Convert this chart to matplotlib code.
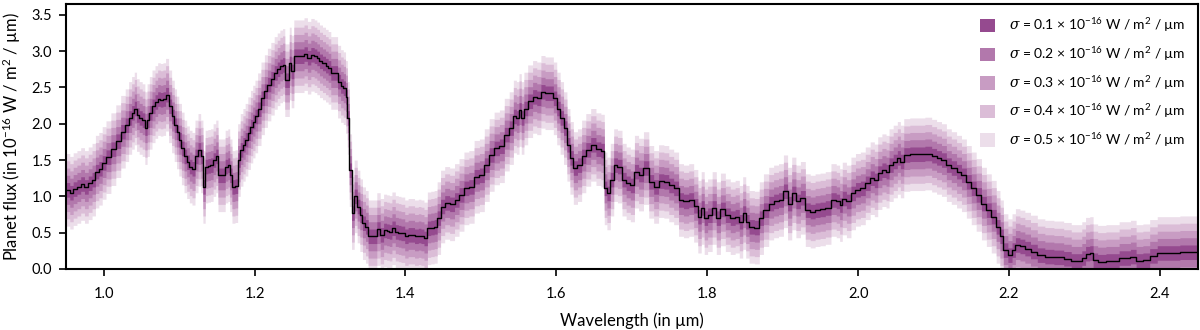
import numpy as np
import matplotlib
matplotlib.use("Agg")
import matplotlib.pyplot as plt
from matplotlib.patches import Patch

plt.rcParams['font.family'] = ['Lato', 'DejaVu Sans']
plt.rcParams['mathtext.fontset'] = 'custom'
plt.rcParams['mathtext.rm'] = 'Lato'
plt.rcParams['mathtext.it'] = 'DejaVu Serif:italic'

wavelength = [
    0.950, 0.953, 0.957, 0.962, 0.967, 0.972, 0.977, 0.982, 0.987, 0.991,
    0.996, 1.000, 1.006, 1.013, 1.019, 1.026, 1.031, 1.035, 1.039, 1.042,
    1.045, 1.049, 1.053, 1.056, 1.059, 1.062, 1.066, 1.070, 1.073, 1.077,
    1.080, 1.084, 1.088, 1.092, 1.095, 1.098, 1.101, 1.105, 1.108, 1.112,
    1.115, 1.119, 1.123, 1.127, 1.130, 1.133, 1.136, 1.140, 1.143, 1.147,
    1.150, 1.153, 1.159, 1.163, 1.166, 1.168, 1.172, 1.176, 1.179, 1.183,
    1.186, 1.189, 1.193, 1.196, 1.199, 1.202, 1.206, 1.211, 1.215, 1.219,
    1.224, 1.228, 1.232, 1.235, 1.239, 1.241, 1.245, 1.247, 1.250, 1.254,
    1.258, 1.263, 1.268, 1.272, 1.277, 1.281, 1.284, 1.288, 1.292, 1.296,
    1.299, 1.303, 1.308, 1.312, 1.316, 1.319, 1.322, 1.324, 1.327, 1.330,
    1.334, 1.338, 1.341, 1.345, 1.349, 1.352, 1.356, 1.360, 1.364, 1.369,
    1.373, 1.377, 1.380, 1.384, 1.389, 1.392, 1.396, 1.402, 1.405, 1.409,
    1.415, 1.419, 1.422, 1.427, 1.431, 1.436, 1.440, 1.444, 1.449, 1.455,
    1.462, 1.468, 1.474, 1.481, 1.487, 1.495, 1.501, 1.508, 1.514, 1.521,
    1.528, 1.534, 1.541, 1.545, 1.549, 1.552, 1.555, 1.559, 1.565, 1.572,
    1.576, 1.583, 1.587, 1.594, 1.598, 1.603, 1.607, 1.612, 1.616, 1.620,
    1.625, 1.631, 1.636, 1.642, 1.649, 1.656, 1.662, 1.665, 1.669, 1.674,
    1.678, 1.684, 1.690, 1.695, 1.701, 1.706, 1.712, 1.719, 1.726, 1.732,
    1.739, 1.746, 1.752, 1.759, 1.765, 1.772, 1.779, 1.785, 1.790, 1.794,
    1.798, 1.803, 1.810, 1.814, 1.821, 1.827, 1.834, 1.840, 1.845, 1.849,
    1.853, 1.858, 1.867, 1.871, 1.878, 1.885, 1.891, 1.898, 1.904, 1.909,
    1.915, 1.920, 1.927, 1.933, 1.940, 1.946, 1.953, 1.960, 1.968, 1.974,
    1.977, 1.981, 1.988, 1.993, 2.000, 2.006, 2.013, 2.019, 2.024, 2.028,
    2.035, 2.039, 2.043, 2.050, 2.054, 2.058, 2.063, 2.074, 2.083, 2.094,
    2.101, 2.107, 2.114, 2.120, 2.127, 2.134, 2.140, 2.147, 2.153, 2.160,
    2.167, 2.173, 2.180, 2.186, 2.190, 2.195, 2.202, 2.206, 2.211, 2.218,
    2.224, 2.233, 2.242, 2.253, 2.266, 2.279, 2.286, 2.294, 2.299, 2.304,
    2.310, 2.313, 2.322, 2.335, 2.357, 2.365, 2.372, 2.383, 2.390, 2.403,
    2.417, 2.436, 2.450,
]

flux = [
    1.09, 1.09, 1.05, 1.10, 1.13, 1.17, 1.13, 1.18, 1.23, 1.34,
    1.38, 1.46, 1.54, 1.65, 1.76, 1.89, 1.98, 2.08, 2.15, 2.21,
    2.12, 2.08, 2.05, 1.94, 2.05, 2.15, 2.24, 2.30, 2.34, 2.33,
    2.34, 2.40, 2.24, 2.10, 1.98, 1.88, 1.78, 1.66, 1.55, 1.47,
    1.41, 1.38, 1.55, 1.64, 1.55, 1.13, 1.41, 1.42, 1.43, 1.50,
    1.55, 1.29, 1.29, 1.41, 1.43, 1.29, 1.13, 1.14, 1.50, 1.64,
    1.71, 1.78, 1.87, 1.96, 2.03, 2.10, 2.20, 2.35, 2.45, 2.54,
    2.62, 2.70, 2.75, 2.79, 2.81, 2.60, 2.60, 2.83, 2.72, 2.93,
    2.93, 2.93, 2.96, 2.91, 2.95, 2.93, 2.90, 2.86, 2.83, 2.80,
    2.77, 2.70, 2.70, 2.58, 2.52, 2.49, 2.37, 2.08, 1.36, 0.77,
    1.00, 0.86, 0.74, 0.63, 0.58, 0.45, 0.45, 0.45, 0.55, 0.47,
    0.53, 0.52, 0.51, 0.56, 0.51, 0.50, 0.49, 0.45, 0.47, 0.47,
    0.45, 0.46, 0.45, 0.42, 0.56, 0.57, 0.58, 0.70, 0.86, 0.91,
    0.89, 0.95, 1.02, 1.11, 1.13, 1.27, 1.29, 1.43, 1.57, 1.66,
    1.69, 1.85, 1.94, 2.10, 2.08, 2.19, 2.08, 2.21, 2.31, 2.37,
    2.35, 2.44, 2.42, 2.42, 2.35, 2.21, 2.08, 1.94, 1.71, 1.53,
    1.39, 1.43, 1.55, 1.64, 1.71, 1.65, 1.63, 1.11, 1.04, 1.23,
    1.43, 1.41, 1.23, 1.18, 1.15, 1.34, 1.30, 1.39, 1.20, 1.13,
    1.21, 1.20, 1.15, 1.11, 0.95, 0.93, 0.95, 0.87, 0.72, 0.84,
    0.70, 0.74, 0.84, 0.70, 0.82, 0.74, 0.70, 0.72, 0.65, 0.77,
    0.65, 0.58, 0.57, 0.70, 0.81, 0.90, 0.93, 0.95, 1.07, 0.90,
    1.04, 0.93, 0.98, 0.81, 0.79, 0.81, 0.82, 0.84, 0.95, 0.93,
    0.88, 0.97, 0.93, 1.04, 1.09, 1.11, 1.18, 1.25, 1.22, 1.32,
    1.36, 1.34, 1.43, 1.48, 1.53, 1.48, 1.57, 1.58, 1.58, 1.59,
    1.56, 1.53, 1.50, 1.43, 1.39, 1.34, 1.29, 1.20, 1.11, 1.02,
    0.90, 0.81, 0.72, 0.58, 0.45, 0.26, 0.19, 0.26, 0.33, 0.31,
    0.28, 0.24, 0.19, 0.17, 0.16, 0.14, 0.11, 0.11, 0.15, 0.21,
    0.22, 0.12, 0.10, 0.11, 0.15, 0.17, 0.11, 0.12, 0.18, 0.22,
    0.22, 0.23, 0.23,
]

sigmas = [0.5, 0.4, 0.3, 0.2, 0.1]
band_colors = ['#ecdeea', '#dbbdd7', '#c89cc3', '#b278ac', '#954a8f']
sigma_labels = ['0.1', '0.2', '0.3', '0.4', '0.5']

wl = np.array(wavelength)
fl = np.array(flux)

fig = plt.figure(figsize=(12, 3.3), dpi=100)
ax = fig.add_axes([0.055, 0.185, 0.943, 0.803])

for s, c in zip(sigmas, band_colors):
    ax.fill_between(wl, fl - s, fl + s, step='mid', color=c, lw=0)
ax.plot(wl, fl, drawstyle='steps-mid', color='black', lw=1.0)

ax.set_xlim(0.95, 2.45)
ax.set_ylim(0, 3.65)
ax.set_xticks([1.0, 1.2, 1.4, 1.6, 1.8, 2.0, 2.2, 2.4])
ax.set_yticks([0.0, 0.5, 1.0, 1.5, 2.0, 2.5, 3.0, 3.5])
ax.tick_params(direction='out', length=5, width=1.2, labelsize=10.5)
ax.tick_params(axis='x', pad=8)
ax.tick_params(axis='y', pad=5)
for sp in ax.spines.values():
    sp.set_linewidth(1.5)

ax.set_xlabel('Wavelength (in µm)', fontsize=12, labelpad=8)
ax.set_ylabel('Planet flux (in 10$^{-16}$ W / m$^{2}$ / µm)', fontsize=12, labelpad=6)

handles = [Patch(facecolor=c, edgecolor='none') for c in band_colors[::-1]]
labels = [r'$\sigma$ = ' + v + r' × 10$^{-16}$ W / m$^{2}$ / µm' for v in sigma_labels]
ax.legend(handles, labels, loc='upper right', frameon=False, fontsize=10,
          handlelength=1.1, handleheight=1.1, handletextpad=1.0, labelspacing=0.72,
          borderaxespad=0.45)

fig.savefig('out.png', dpi=100)
